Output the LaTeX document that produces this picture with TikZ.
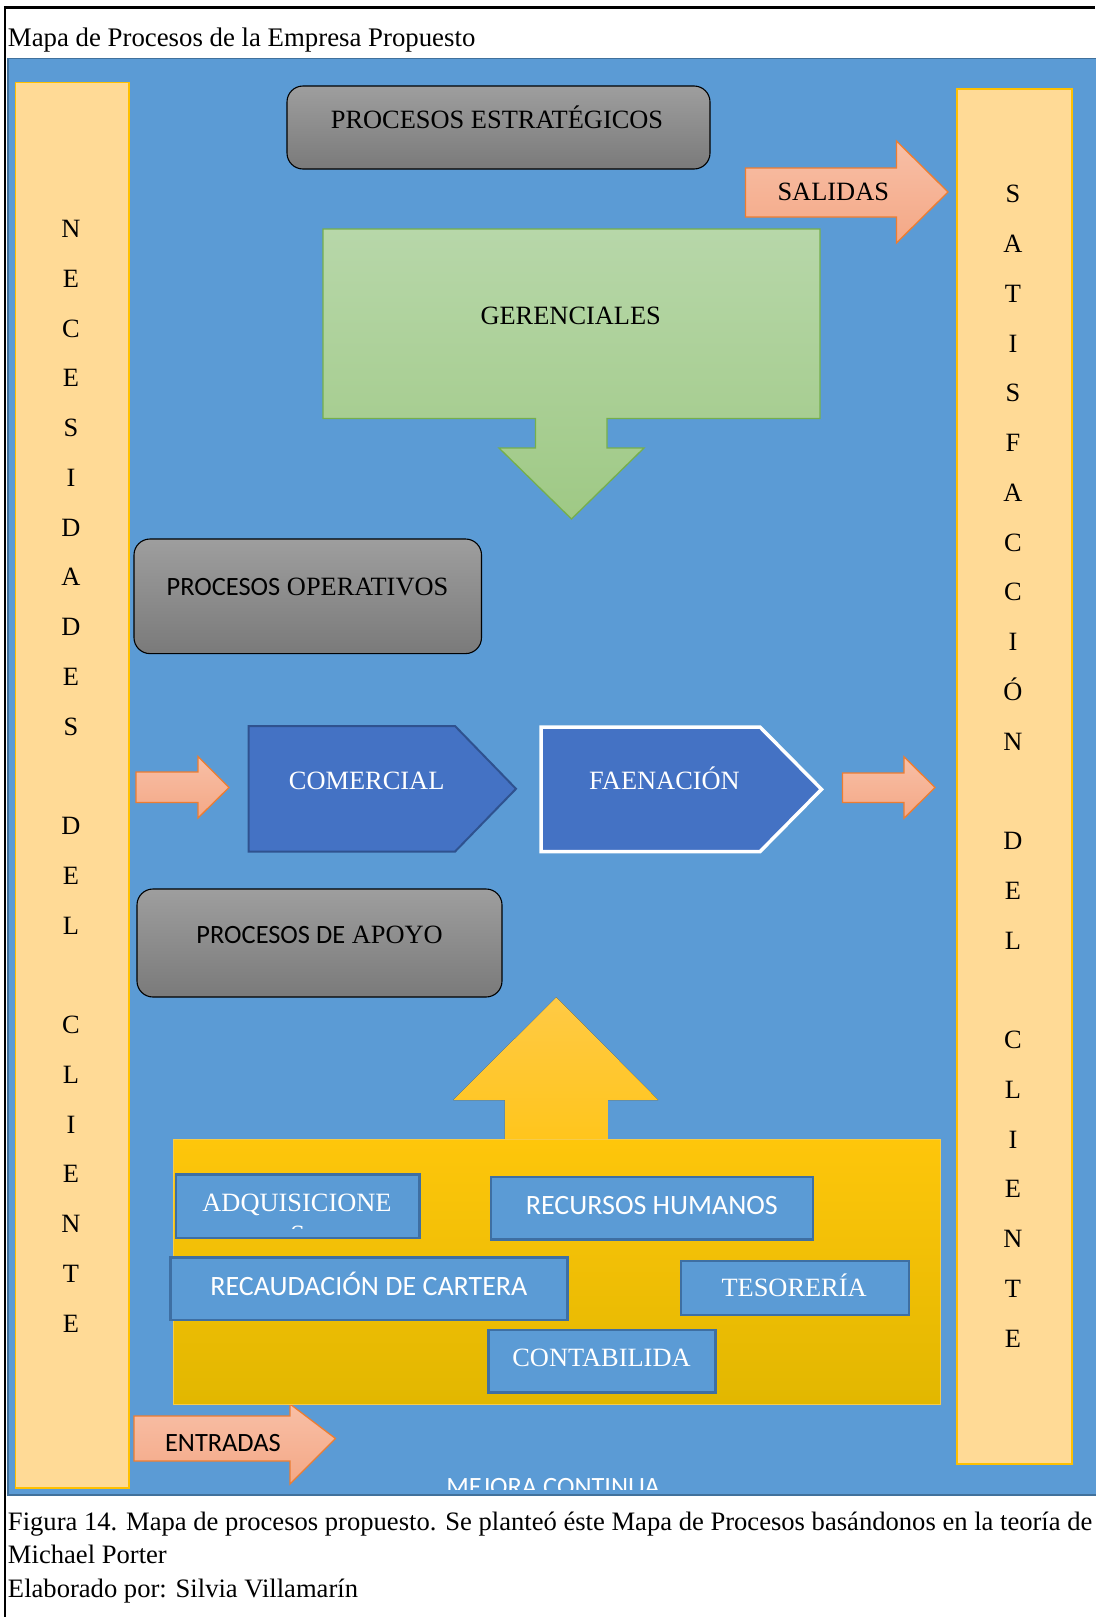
\documentclass[tikz,border=0pt]{standalone}
\usepackage{fontspec}
\setmainfont{Liberation Serif}
\newfontfamily\calibri{Carlito}

\definecolor{bgblue}{HTML}{5B9BD5}
\definecolor{bgedge}{HTML}{41719C}
\definecolor{colfill}{HTML}{FFDA96}
\definecolor{coledge}{HTML}{FFC000}
\definecolor{graytop}{HTML}{9E9E9E}
\definecolor{graybot}{HTML}{7A7A7A}
\definecolor{salmtop}{HTML}{F8BFA6}
\definecolor{salmbot}{HTML}{F4A886}
\definecolor{salmedge}{HTML}{ED7D31}
\definecolor{greentop}{HTML}{B7D7A9}
\definecolor{greenbot}{HTML}{9FC985}
\definecolor{greenedge}{HTML}{76AF4C}
\definecolor{pentafill}{HTML}{4472C4}
\definecolor{pentaedge}{HTML}{2F528F}
\definecolor{yeltop}{HTML}{FFCA45}
\definecolor{yelstem}{HTML}{FFC51C}
\definecolor{rectop}{HTML}{FEC60B}
\definecolor{recbot}{HTML}{E2B700}
\definecolor{recedge}{HTML}{F6CB4A}
\definecolor{smalledge}{HTML}{3E6FA3}

\begin{document}
\begin{tikzpicture}[x=1pt,y=-1pt,
  every node/.style={inner sep=0pt,outer sep=0pt},
  serif/.style={font=\fontsize{26.4}{33}\selectfont,anchor=base},
  sans/.style={font=\calibri\fontsize{26.4}{33}\selectfont,anchor=base},
  lettercol/.style={font=\fontsize{26.4}{49.75}\selectfont,align=center,anchor=north},
  column/.style={draw=coledge,line width=1.5pt,fill=colfill},
  procbox/.style={draw=black,line width=1.1pt,rounded corners=16pt,top color=graytop,bottom color=graybot},
  salmon/.style={draw=salmedge,line width=1.3pt,top color=salmtop,bottom color=salmbot,line join=miter},
  greenshape/.style={draw=greenedge,line width=1.3pt,top color=greentop,bottom color=greenbot},
  pentagon/.style={fill=pentafill,line join=miter},
  smallbox/.style={draw=smalledge,line width=2.4pt,fill=bgblue},
  caption/.style={font=\fontsize{26.6}{33}\selectfont,anchor=base west}
]
\useasboundingbox (0,0) rectangle (1095,1617);
\fill[white] (0,0) rectangle (1095,1617);

% frame and coloured panel
\filldraw[fill=bgblue,draw=bgedge,line width=1.5pt] (8,58.5) rectangle (1097,1495);
\draw[black,line width=3.3pt] (3.8,7.7) -- (1095,7.7);
\draw[black,line width=2.5pt] (5,6) -- (5,1617);

\node[serif,anchor=base west,font=\fontsize{26.8}{33}\selectfont] (title) at (8,46.5)
  {Mapa de Procesos de la Empresa Propuesto};

% side columns
\node[column,minimum width=113.5,minimum height=1405.5] (leftcol) at (72.25,785.25) {};
\node[lettercol] (necesidades) at (71,220.2)
  {N\\E\\C\\E\\S\\I\\D\\A\\D\\E\\S\\\mbox{}\\D\\E\\L\\\mbox{}\\C\\L\\I\\E\\N\\T\\E};
\node[column,minimum width=115,minimum height=1375] (rightcol) at (1014.5,776.5) {};
\node[lettercol] (satisfaccion) at (1013,185.3)
  {S\\A\\T\\I\\S\\F\\A\\C\\C\\I\\Ó\\N\\\mbox{}\\D\\E\\L\\\mbox{}\\C\\L\\I\\E\\N\\T\\E};

% strategic processes
\node[procbox,minimum width=423,minimum height=83] (estrategicos) at (498.5,127.5) {};
\node[serif] (estrategicos-txt) at (497,128.3) {PROCESOS ESTRATÉGICOS};

\draw[salmon] (745.5,168) -- (896.5,168) -- (896.5,141) -- (948,192) -- (896.5,243)
  -- (896.5,217) -- (745.5,217) -- cycle;
\node[serif] (salidas) at (833.3,200) {SALIDAS};

\draw[greenshape] (323,229) -- (820,229) -- (820,418.5) -- (607,418.5) -- (607,448)
  -- (644,448) -- (571.5,519) -- (499,448) -- (535.5,448) -- (535.5,418.5)
  -- (323,418.5) -- cycle;
\node[serif] (gerenciales) at (570.7,324.3) {GERENCIALES};

% operative processes
\node[procbox,minimum width=347.5,minimum height=114.6] (operativos) at (307.75,596.3) {};
\node[serif] (operativos-txt) at (307.5,595.7) {{\calibri PROCESOS} OPERATIVOS};

\draw[salmon] (136,772) -- (198,772) -- (198,756.5) -- (229,787.5) -- (198,818)
  -- (198,802.5) -- (136,802.5) -- cycle;
\draw[pentagon,draw=pentaedge,line width=2pt] (248.5,726) -- (455,726) -- (516,788.8)
  -- (455,851.6) -- (248.5,851.6) -- cycle;
\node[serif,text=white] (comercial) at (366.7,789.3) {COMERCIAL};
\draw[pentagon,draw=white,line width=3.5pt] (541,727) -- (760,727) -- (821.5,789.3)
  -- (760,851.6) -- (541,851.6) -- cycle;
\node[serif,text=white] (faenacion) at (664.5,789.3) {FAENACIÓN};
\draw[salmon] (842.5,773) -- (904,773) -- (904,756.7) -- (935,787.5) -- (904,818.3)
  -- (904,802.5) -- (842.5,802.5) -- cycle;

% support processes
\node[procbox,minimum width=365,minimum height=108] (apoyo) at (319.5,943) {};
\node[serif] (apoyo-txt) at (319.6,943.3) {{\calibri PROCESOS DE} APOYO};

\draw[salmon] (134,1416) -- (290,1416) -- (290,1404) -- (335.5,1438.5) -- (290,1484)
  -- (290,1461) -- (134,1461) -- cycle;
\node[sans] (entradas) at (222.9,1451.8) {ENTRADAS};

\fill[top color=yeltop,bottom color=yelstem] (556.3,997.3) -- (658.2,1100) -- (607.8,1100)
  -- (607.8,1141) -- (504.8,1141) -- (504.8,1100) -- (453.3,1100) -- cycle;
\draw[draw=recedge,line width=1pt,top color=rectop,bottom color=recbot]
  (173,1139.3) rectangle (940,1404);

\node[smallbox,minimum width=243.4,minimum height=63.4] (adq) at (297.7,1206) {};
\node[serif,text=white] (adq-txt) at (297,1211.5) {ADQUISICIONE};
\begin{scope}
  \clip (176,1160) rectangle (419,1228);
  \node[serif,text=white] (adq-s) at (297.7,1243.4) {S};
\end{scope}
\node[smallbox,minimum width=322.5,minimum height=62.6] (rrhh) at (652,1208) {};
\node[sans,text=white,font=\calibri\fontsize{28}{33}\selectfont] (rrhh-txt) at (651.8,1214) {RECURSOS HUMANOS};
\node[smallbox,minimum width=396.9,minimum height=62.7] (cartera) at (368.85,1288.65) {};
\node[sans,text=white,font=\calibri\fontsize{28}{33}\selectfont] (cartera-txt) at (368.9,1295.7) {RECAUDACIÓN DE CARTERA};
\node[smallbox,minimum width=227.7,minimum height=54.3] (tesoreria) at (794.85,1287.85) {};
\node[serif,text=white] (tesoreria-txt) at (794.1,1296.7) {TESORERÍA};
\node[smallbox,minimum width=227,minimum height=62.3] (contab) at (601.8,1361.15) {};
\node[serif,text=white] (contab-txt) at (601.5,1366) {CONTABILIDA};

% continuous improvement label, cut off by its frame
\begin{scope}
  \clip (8,1400) rectangle (1095,1489);
  \node[sans,text=white] (mejora) at (553,1495.5) {MEJORA CONTINUA};
\end{scope}

% caption
\node[caption] (cap1) at (8,1530) {Figura 14. Mapa de procesos propuesto. Se planteó éste Mapa de Procesos basándonos en la teoría de};
\node[caption] (cap2) at (8,1563.5) {Michael Porter};
\node[caption] (cap3) at (8,1597) {Elaborado por: Silvia Villamarín};
\end{tikzpicture}
\end{document}
